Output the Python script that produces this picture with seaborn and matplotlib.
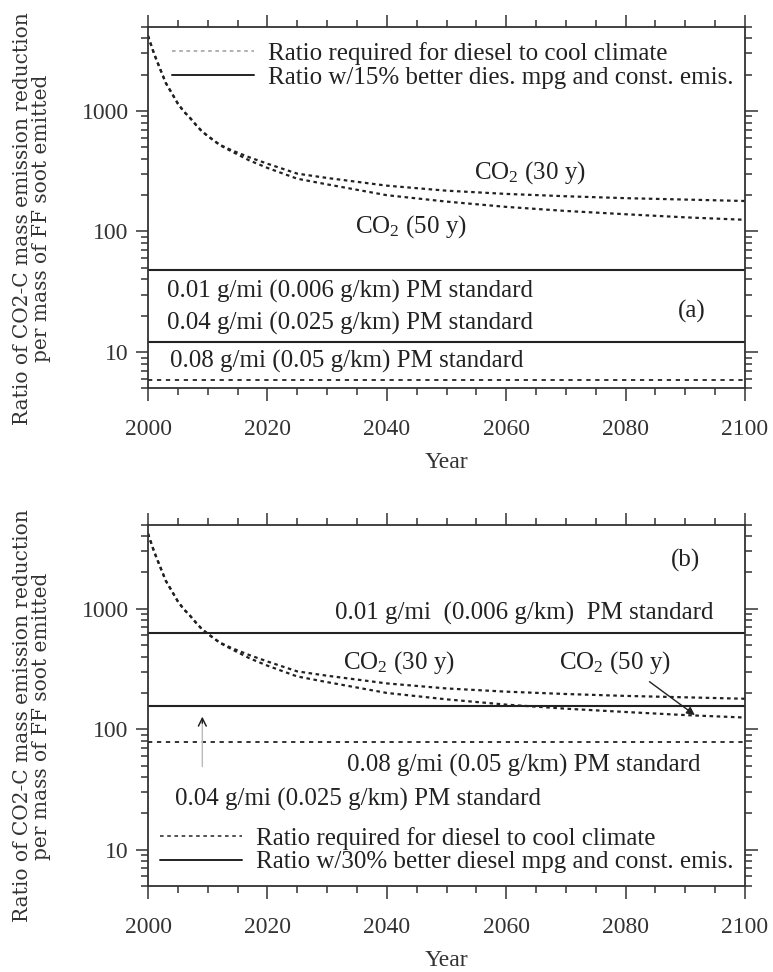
import numpy as np
import pandas as pd
import matplotlib
matplotlib.use("Agg")
import matplotlib.pyplot as plt
import seaborn as sns
from matplotlib.lines import Line2D
from matplotlib.ticker import LogLocator, MultipleLocator, NullFormatter, FixedLocator, FixedFormatter

# ---------------- data ----------------
years = [2000, 2001, 2002, 2003, 2004, 2005, 2006, 2007, 2008, 2009, 2010,
         2011, 2012, 2014, 2017, 2020, 2025, 2030, 2040, 2050, 2060, 2070,
         2080, 2090, 2100]
co2_30y = [4200, 3000, 2250, 1700, 1400, 1150, 990, 880, 770, 680, 620,
           570, 525, 472, 412, 365, 302, 278, 240, 218, 205, 196,
           189, 184, 179]
co2_50y = [4200, 3000, 2250, 1700, 1400, 1150, 990, 880, 770, 680, 620,
           570, 522, 462, 388, 337, 274, 246, 200, 177, 160, 148,
           139, 131, 125]

line_years = [2000, 2100]
# panel (a): ratio w/15% better diesel mpg (solid) and ratio required (dotted)
a_solid_levels = [47.5, 12.0]
a_dotted_levels = [5.9]
# panel (b): ratio w/30% better diesel mpg (solid) and ratio required (dotted)
b_solid_levels = [625, 157]
b_dotted_levels = [78]

x_ticks = [2000, 2020, 2040, 2060, 2080, 2100]
x_ticklabels = ["2000", "2020", "2040", "2060", "2080", "2100"]
y_ticks = [10, 100, 1000]
y_ticklabels = ["10", "100", "1000"]

legend_a = ["Ratio required for diesel to cool climate",
            "Ratio w/15% better dies. mpg and const. emis."]
legend_b = ["Ratio required for diesel to cool climate",
            "Ratio w/30% better diesel mpg and const. emis."]
ylabel = "Ratio of CO2-C mass emission reduction\nper mass of FF soot emitted"
xlabel = "Year"

# ---------------- style ----------------
sns.set_theme(style="ticks")
plt.rcParams["font.family"] = ["Liberation Serif", "DejaVu Serif"]
plt.rcParams["mathtext.fontset"] = "custom"
plt.rcParams["mathtext.rm"] = "Liberation Serif"
plt.rcParams["mathtext.it"] = "Liberation Serif:italic"
plt.rcParams["text.color"] = "#222222"

fig = plt.figure(figsize=(7.73, 9.72), dpi=100)
W, H = 773, 972
def axrect(left, right, top, bottom):
    return [left / W, 1 - bottom / H, (right - left) / W, (bottom - top) / H]

ax_a = fig.add_axes(axrect(148, 745, 26.7, 388.3))
ax_b = fig.add_axes(axrect(148, 745, 524.5, 886))

curve_df = pd.DataFrame({"Year": years * 2,
                         "Ratio": co2_30y + co2_50y,
                         "Case": ["30 y"] * len(years) + ["50 y"] * len(years)})

dot_curve = (0, (1.6, 1.6))
dot_line = (0, (2.2, 2.4))
fs = 18
fs_tick = 17

def draw_panel(ax, solid_levels, dotted_levels):
    for case in ["30 y", "50 y"]:
        sub = curve_df[curve_df["Case"] == case]
        sns.lineplot(data=sub, x="Year", y="Ratio", ax=ax, color="#222222",
                     linewidth=1.6, linestyle=dot_curve, legend=False)
    for v in solid_levels:
        sns.lineplot(x=line_years, y=[v, v], ax=ax, color="#222222",
                     linewidth=1.5, legend=False)
    for v in dotted_levels:
        sns.lineplot(x=line_years, y=[v, v], ax=ax, color="#333333",
                     linewidth=1.4, linestyle=dot_line, legend=False)
    ax.set_yscale("log")
    ax.set_xlim(2000, 2100)
    ax.set_ylim(5, 5000)
    ax.xaxis.set_major_locator(FixedLocator(x_ticks))
    ax.xaxis.set_major_formatter(FixedFormatter(x_ticklabels))
    ax.xaxis.set_minor_locator(MultipleLocator(5))
    ax.yaxis.set_major_locator(FixedLocator(y_ticks))
    ax.yaxis.set_major_formatter(FixedFormatter(y_ticklabels))
    ax.yaxis.set_minor_locator(LogLocator(base=10, subs=np.arange(2, 10)))
    ax.yaxis.set_minor_formatter(NullFormatter())
    ax.tick_params(which="both", direction="out", top=True, right=True,
                   color="#333333", width=1.1)
    ax.tick_params(which="major", length=9, labelsize=fs_tick,
                   labelcolor="#333333")
    ax.tick_params(axis="x", which="major", pad=13)
    ax.tick_params(axis="y", which="major", pad=5)
    ax.tick_params(which="minor", length=5)
    for s in ax.spines.values():
        s.set_color("#333333")
        s.set_linewidth(1.3)
    ax.set_xlabel(xlabel, fontsize=17, labelpad=9, color="#333333")
    ax.set_ylabel(ylabel, fontsize=14.5, family="DejaVu Serif",
                  color="#333333", linespacing=1.05)
    ax.yaxis.set_label_coords(-0.162, 0.47)

draw_panel(ax_a, a_solid_levels, a_dotted_levels)
draw_panel(ax_b, b_solid_levels, b_dotted_levels)

handles = [Line2D([0], [0], color="#aaaaaa", linestyle=(0, (2, 2)), linewidth=1.3),
           Line2D([0], [0], color="#222222", linewidth=1.4)]
handles_b = [Line2D([0], [0], color="#444444", linestyle=(0, (2, 2)), linewidth=1.3),
             Line2D([0], [0], color="#222222", linewidth=1.4)]

ax_a.legend(handles, legend_a, loc="upper left", bbox_to_anchor=(0.04, 0.958),
            frameon=False, fontsize=fs, handlelength=3.3, handletextpad=0.55,
            labelspacing=0.05, borderpad=0, borderaxespad=0)
ax_b.legend(handles_b, legend_b, loc="lower left", bbox_to_anchor=(0.02, 0.035),
            frameon=False, fontsize=fs, handlelength=3.3, handletextpad=0.55,
            labelspacing=0.05, borderpad=0, borderaxespad=0)

# panel (a) annotations
ax_a.text(2064, 306, r"CO$_2$ (30 y)", fontsize=fs, ha="center", va="center")
ax_a.text(2044, 109, r"CO$_2$ (50 y)", fontsize=fs, ha="center", va="center")
ax_a.text(2003.2, 31.5, "0.01 g/mi (0.006 g/km) PM standard", fontsize=fs, va="center")
ax_a.text(2003.2, 17.3, "0.04 g/mi (0.025 g/km) PM standard", fontsize=fs, va="center")
ax_a.text(2003.7, 8.3, "0.08 g/mi (0.05 g/km) PM standard", fontsize=fs, va="center")
ax_a.text(2091, 21.6, "(a)", fontsize=fs, ha="center", va="center")

# panel (b) annotations
ax_b.text(2090, 2530, "(b)", fontsize=fs, ha="center", va="center")
ax_b.text(2031.3, 916, "0.01 g/mi  (0.006 g/km)  PM standard", fontsize=fs, va="center")
ax_b.text(2042, 355, r"CO$_2$ (30 y)", fontsize=fs, ha="center", va="center")
ax_b.text(2078.2, 355, r"CO$_2$ (50 y)", fontsize=fs, ha="center", va="center")
ax_b.text(2033.3, 50.5, "0.08 g/mi (0.05 g/km) PM standard", fontsize=fs, va="center")
ax_b.text(2004.5, 25.9, "0.04 g/mi (0.025 g/km) PM standard", fontsize=fs, va="center")
ax_b.annotate("", xy=(2091.6, 131), xytext=(2084, 248),
              arrowprops=dict(arrowstyle="-|>", color="#222222", lw=1.0,
                              mutation_scale=12, shrinkA=0, shrinkB=0))
ax_b.annotate("", xy=(2009.1, 127), xytext=(2009.1, 49),
              arrowprops=dict(arrowstyle="->", color="#bbbbbb", lw=1.0,
                              mutation_scale=14, shrinkA=0, shrinkB=0))
ax_b.annotate("", xy=(2009.1, 127), xytext=(2009.1, 112),
              arrowprops=dict(arrowstyle="->", color="#222222", lw=1.0,
                              mutation_scale=14, shrinkA=0, shrinkB=0))

fig.savefig("out.png", dpi=100)
